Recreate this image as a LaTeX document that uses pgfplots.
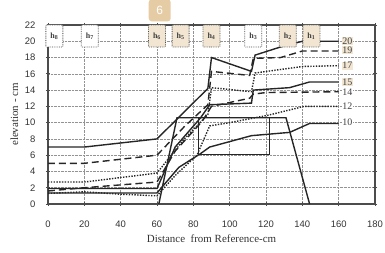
\documentclass[border=0pt]{standalone}
\usepackage{pgfplots}
\pgfplotsset{compat=1.18}
\usepackage{fontspec}
\setmainfont{Liberation Serif}
\setsansfont{Liberation Sans}
\definecolor{beige}{RGB}{242,230,210}
\definecolor{badge}{RGB}{230,204,165}
\tikzset{
  hbox/.style={draw=black!70, densely dotted, line width=0.8pt, fill=#1, rounded corners=1pt,
     minimum width=17bp, minimum height=22bp, inner sep=1pt,
     font=\bfseries\fontsize{8}{9}\selectfont, text=black!75},
  rlab/.style={anchor=west, fill=#1, inner sep=0.8pt, font=\fontsize{10}{11}\selectfont, text=black!75},
}
\begin{document}
\begin{tikzpicture}
\begin{axis}[
  scale only axis, width=327bp, height=179bp,
  xmin=0, xmax=180, ymin=0, ymax=22,
  xtick={0,20,...,180}, ytick={0,2,...,22},
  grid=major, grid style={densely dotted, gray!85, line width=0.6pt},
  axis line style={black!70, line width=1.2pt},
  tick style={black!70, line width=0.7pt},
  tick align=center, major tick length=4bp,
  ticklabel style={font=\sffamily\fontsize{9.5}{10}\selectfont, text=black!80},
  /pgf/number format/assume math mode=true,
  xticklabel style={yshift=-11bp},
  yticklabel style={xshift=-7bp},
  xlabel={Distance\ \ from Reference-cm},
  ylabel={elevation - cm},
  label style={font=\fontsize{11}{12}\selectfont, text=black!80},
  xlabel style={yshift=-1bp},
  ylabel style={yshift=0bp},
  clip=false,
  every axis plot/.append style={line width=1.4pt, black!85},
]
% series 20
\addplot[solid] coordinates {(0,7)(20,7)(60,8)(88,14.2)(90,18)(112,16.3)(114,18.3)(128,19.3)(140,20)(160,20)};
% series 19
\addplot[dash pattern=on 7pt off 4pt] coordinates {(0,5)(20,5)(60,6)(75,9.5)(88,12.2)(90,16.3)(111,15.8)(113,17.9)(128,18)(140,18.8)(160,18.8)};
% series 17
\addplot[dash pattern=on 1.4pt off 1.4pt] coordinates {(0,2.7)(20,2.7)(60,3.8)(75,8)(88,11)(90,14.3)(112,13.8)(114,16.1)(140,16.9)(160,17)};
% series 15
\addplot[solid] coordinates {(0,1.9)(20,1.9)(60,1.9)(70,7)(84,10.6)(89,12.2)(112,12.4)(113,14)(133,14.3)(144,15)(160,15)};
% series 14
\addplot[dash pattern=on 7pt off 4pt] coordinates {(0,1.6)(20,2)(60,2.7)(70,6.5)(85,10.2)(90,12)(111,13)(113,13.5)(120,13.7)(160,13.8)};
% series 12
\addplot[dash pattern=on 1.4pt off 1.4pt] coordinates {(0,1.3)(20,1.5)(40,1.2)(60,1.0)(70,3.5)(82,6)(89,9.6)(100,10)(121,10.9)(141,12)(160,12)};
% series 10
\addplot[solid] coordinates {(0,1.35)(60,1.35)(72,4.5)(84,6.2)(89,7)(112,8.4)(133,8.8)(144,9.9)(160,9.9)};
% structure
\addplot[solid] coordinates {(61,0)(71,10.6)(131,10.6)(144,0)};
\addplot[solid] coordinates {(83,10.6)(83,6.1)(122,6.1)(122,10.6)};
% h boxes
\node[hbox=white] at (axis cs:3.5,20.65) {h\textsubscript{8}};
\node[hbox=white] at (axis cs:23,20.65) {h\textsubscript{7}};
\node[hbox=beige] at (axis cs:60,20.65) {h\textsubscript{6}};
\node[hbox=beige] at (axis cs:73,20.65) {h\textsubscript{5}};
\node[hbox=beige] at (axis cs:90,20.65) {h\textsubscript{4}};
\node[hbox=white] at (axis cs:113,20.65) {h\textsubscript{3}};
\node[hbox=beige] at (axis cs:132,20.65) {h\textsubscript{2}};
\node[hbox=beige] at (axis cs:145,20.65) {h\textsubscript{1}};
% right labels
\node[rlab=beige] at (axis cs:161.5,20) {20};
\node[rlab=beige] at (axis cs:161.5,18.9) {19};
\node[rlab=beige] at (axis cs:161.5,17) {17};
\node[rlab=beige] at (axis cs:161.5,15) {15};
\node[rlab=white] at (axis cs:161.5,13.8) {14};
\node[rlab=white] at (axis cs:161.5,12) {12};
\node[rlab=white] at (axis cs:161.5,10) {10};
\node[fill=badge, rounded corners=3pt, minimum width=22bp, minimum height=22bp, inner sep=0pt,
      font=\sffamily\fontsize{12}{13}\selectfont, text=white] at (axis cs:61.5,23.8) {6};
\end{axis}
\pgfresetboundingbox
\path (current axis.south west) ++(-48bp,-49bp) coordinate (bbA);
\path (current axis.north east) ++(10bp,25bp) coordinate (bbB);
\useasboundingbox (bbA) rectangle (bbB);
\end{tikzpicture}
\end{document}
